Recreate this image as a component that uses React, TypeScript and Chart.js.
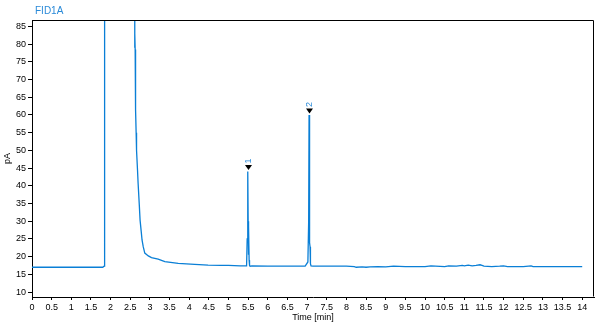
import React, { useEffect, useRef } from "react";
import { Chart, registerables } from "chart.js";

Chart.register(...registerables);

// Retention time (min) and detector signal (pA)
const timeMin = [
  0, 0.5, 1.0, 1.5, 1.8, 1.835, 1.845, 1.85,
  2.6, 2.61, 2.615, 2.62, 2.625, 2.63, 2.64, 2.65, 2.66, 2.685, 2.7, 2.73, 2.75, 2.78, 2.8, 2.83, 2.87,
  2.96, 3.04, 3.21, 3.38, 3.72, 4.14, 4.48, 4.8, 5.0, 5.3, 5.42,
  5.46, 5.475, 5.49, 5.5, 5.505, 5.515, 5.525, 5.535, 5.55, 5.6,
  6.0, 6.5, 6.95, 7.02, 7.04, 7.05, 7.06, 7.065, 7.075, 7.085, 7.1, 7.15,
  7.5, 8.0, 8.2, 8.25, 8.4, 8.5, 8.6, 8.8, 9.0, 9.2, 9.5, 10.0, 10.15, 10.5, 10.6, 10.8,
  10.95, 11.0, 11.1, 11.2, 11.3, 11.4, 11.45, 11.5, 11.7, 11.9, 12.0, 12.1, 12.2, 12.5,
  12.7, 12.75, 13.0, 13.5, 14.0,
];
const signalPA = [
  17.0, 17.0, 17.0, 17.0, 17.0, 17.3, 17.3, 300,
  300, 86.0, 79.0, 83.0, 78.5, 62.0, 61.5, 55.0, 50.0, 44.4, 40.7, 34.6, 30.3, 27.0, 24.7, 22.8, 21.0,
  20.2, 19.7, 19.3, 18.6, 18.1, 17.8, 17.6, 17.5, 17.5, 17.4, 17.4,
  17.4, 25.0, 44.0, 30.0, 20.5, 28.4, 19.0, 17.5, 17.3, 17.4,
  17.3, 17.3, 17.3, 18.5, 30.0, 60.0, 38.0, 24.0, 22.8, 18.0, 17.4, 17.3,
  17.3, 17.3, 17.2, 17.0, 17.1, 17.0, 17.1, 17.2, 17.1, 17.3, 17.2, 17.2, 17.4, 17.2, 17.4, 17.3,
  17.5, 17.4, 17.6, 17.4, 17.5, 17.7, 17.5, 17.3, 17.2, 17.3, 17.4, 17.2, 17.2, 17.2,
  17.4, 17.2, 17.2, 17.2, 17.2,
];

// Integrated peak markers
const peakTimes = [5.5, 7.06];
const peakHeights = [44.0, 60.0];
const peakLabels = ["1", "2"];

// Axis ticks
const xTicks = [
  0, 0.5, 1, 1.5, 2, 2.5, 3, 3.5, 4, 4.5, 5, 5.5, 6, 6.5, 7, 7.5, 8, 8.5, 9, 9.5,
  10, 10.5, 11, 11.5, 12, 12.5, 13, 13.5, 14,
];
const yTicks = [10, 15, 20, 25, 30, 35, 40, 45, 50, 55, 60, 65, 70, 75, 80, 85];

const signalName = "FID1A";
const xTitle = "Time [min]";
const yTitle = "pA";

const LINE_COLOR = "#0a7fd6";
const LABEL_COLOR = "#2a8ad8";
const FONT = "Arial, 'Liberation Sans', sans-serif";

const overlay = {
  id: "overlay",
  afterDraw(chart: any) {
    const { ctx, chartArea, scales } = chart;
    const xs = scales.x;
    const ys = scales.y;
    ctx.save();
    // frame (top & right)
    ctx.strokeStyle = "#000";
    ctx.lineWidth = 1;
    ctx.beginPath();
    const l = Math.round(chartArea.left) + 0.5;
    const r = Math.round(chartArea.right) - 0.5;
    const t = Math.round(chartArea.top) + 0.5;
    const b = Math.round(chartArea.bottom) - 0.5;
    ctx.moveTo(l, t);
    ctx.lineTo(r, t);
    ctx.lineTo(r, b);
    ctx.stroke();

    // signal name
    ctx.fillStyle = LABEL_COLOR;
    ctx.font = `10px ${FONT}`;
    ctx.textAlign = "left";
    ctx.textBaseline = "middle";
    ctx.fillText(signalName, 35, 11);

    // axis titles
    ctx.fillStyle = "#000";
    ctx.font = `9px ${FONT}`;
    ctx.textAlign = "center";
    ctx.fillText(xTitle, (chartArea.left + chartArea.right) / 2, 318);
    ctx.save();
    ctx.translate(8, (chartArea.top + chartArea.bottom) / 2);
    ctx.rotate(-Math.PI / 2);
    ctx.fillText(yTitle, 0, 0);
    ctx.restore();

    // peak markers
    for (let i = 0; i < peakTimes.length; i++) {
      const px = Math.round(xs.getPixelForValue(peakTimes[i])) + 0.5;
      const py = ys.getPixelForValue(peakHeights[i]);
      const tip = py - 1.5;
      ctx.fillStyle = "#000";
      ctx.beginPath();
      ctx.moveTo(px - 3.5, tip - 5);
      ctx.lineTo(px + 3.5, tip - 5);
      ctx.lineTo(px, tip);
      ctx.closePath();
      ctx.fill();
      ctx.save();
      ctx.translate(px, tip - 9);
      ctx.rotate(-Math.PI / 2);
      ctx.fillStyle = LABEL_COLOR;
      ctx.font = `9px ${FONT}`;
      ctx.textAlign = "center";
      ctx.textBaseline = "middle";
      ctx.fillText(peakLabels[i], 0, 0);
      ctx.restore();
    }
    ctx.restore();
  },
};

export default function App() {
  const ref = useRef<HTMLCanvasElement | null>(null);
  useEffect(() => {
    if (!ref.current) return;
    const points = timeMin.map((t, i) => ({ x: t, y: signalPA[i] }));
    const chart = new Chart(ref.current, {
      type: "line",
      data: {
        datasets: [
          {
            data: points,
            borderColor: LINE_COLOR,
            borderWidth: 1.3,
            pointRadius: 0,
            tension: 0,
            fill: false,
          },
        ],
      },
      options: {
        animation: false,
        responsive: false,
        maintainAspectRatio: false,
        layout: { padding: { top: 20, right: 6, left: 0, bottom: 0 } },
        plugins: { legend: { display: false }, title: { display: false }, tooltip: { enabled: false } },
        scales: {
          x: {
            type: "linear",
            min: 0,
            max: 14.3,
            afterBuildTicks: (s: any) => {
              s.ticks = xTicks.map((v) => ({ value: v }));
            },
            afterFit: (s: any) => {
              s.height = 28;
            },
            ticks: {
              color: "#000",
              font: { size: 9, family: FONT },
              padding: 2,
              maxRotation: 0,
              autoSkip: false,
              callback: (v: any) => String(v),
            },
            grid: { display: true, drawOnChartArea: false, drawTicks: true, tickLength: 3, color: "#000" },
            border: { display: true, color: "#000", width: 1 },
          },
          y: {
            type: "linear",
            min: 8.6,
            max: 86.8,
            afterBuildTicks: (s: any) => {
              s.ticks = yTicks.map((v) => ({ value: v }));
            },
            afterFit: (s: any) => {
              s.width = 32;
            },
            ticks: {
              color: "#000",
              font: { size: 9, family: FONT },
              padding: 2,
              autoSkip: false,
              callback: (v: any) => String(v),
            },
            grid: { display: true, drawOnChartArea: false, drawTicks: true, tickLength: 4, color: "#000" },
            border: { display: true, color: "#000", width: 1 },
          },
        },
      },
      plugins: [overlay],
    });
    return () => chart.destroy();
  }, []);
  return (
    <div style={{ position: "fixed", left: 0, top: 0, width: 600, height: 325, background: "#fff" }}>
      <canvas ref={ref} width={600} height={325} style={{ width: 600, height: 325 }} />
    </div>
  );
}
